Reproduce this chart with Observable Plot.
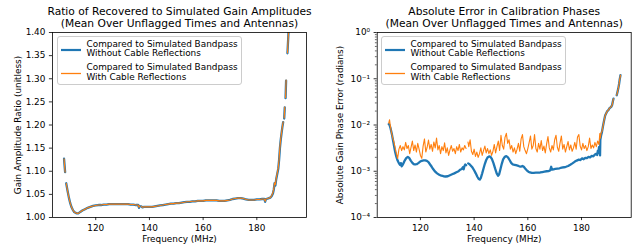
<!DOCTYPE html>
<html><head><meta charset="utf-8">
<script src="https://cdn.jsdelivr.net/npm/d3@7"></script>
<script src="https://cdn.jsdelivr.net/npm/@observablehq/plot@0.6"></script>
<style>
body{margin:0;background:#fff;}
#wrap{position:relative;width:638px;height:248px;font-family:"DejaVu Sans",sans-serif;}
.panel{position:absolute;top:0;}
.legend{position:absolute;box-sizing:border-box;width:185px;height:49px;border:1px solid #cccccc;border-radius:3px;background:rgba(255,255,255,0.8);}
.sw{position:absolute;left:2px;top:0;}
.lt{position:absolute;left:28.5px;font-size:8.9px;line-height:9.4px;white-space:pre;color:#000;}
</style></head><body>
<div id="wrap"></div>
<script>
// ---------- text ----------
const leftTitle = "Ratio of Recovered to Simulated Gain Amplitudes\n(Mean Over Unflagged Times and Antennas)";
const rightTitle = "Absolute Error in Calibration Phases\n(Mean Over Unflagged Times and Antennas)";
const xLabel = "Frequency (MHz)";
const leftYLabel = "Gain Amplitude Ratio (unitless)";
const rightYLabel = "Absolute Gain Phase Error (radians)";
const seriesNames = ["Compared to Simulated Bandpass\nWithout Cable Reflections", "Compared to Simulated Bandpass\nWith Cable Reflections"];
const seriesColors = ["#1f77b4", "#ff7f0e"];

// ---------- ticks ----------
const xTicks = [120, 140, 160, 180];
const ampTicks = [1.00, 1.05, 1.10, 1.15, 1.20, 1.25, 1.30, 1.35, 1.40];
const phaseMajorTicks = [1e-4, 1e-3, 1e-2, 1e-1, 1];
const phaseMinorTicks = [2e-4,3e-4,4e-4,5e-4,6e-4,7e-4,8e-4,9e-4,2e-3,3e-3,4e-3,5e-3,6e-3,7e-3,8e-3,9e-3,2e-2,3e-2,4e-2,5e-2,6e-2,7e-2,8e-2,9e-2,0.2,0.3,0.4,0.5,0.6,0.7,0.8,0.9];

// ---------- gain amplitude ratio, [MHz, ratio] ----------
const ampNoRefl = [[108.2,1.127],[108.4,1.112],[108.6,1.098],[108.8,null],[109.0,1.074],[109.5,1.058],[110.0,1.043],[110.5,1.031],[111.0,1.022],[111.5,1.016],[112.0,1.012],[112.5,1.010],[113.0,1.009],[113.5,1.009],[114.0,1.011],[114.5,1.013],[115.0,1.015],[116.0,1.018],[117.0,1.021],[118.0,1.023],[119.0,1.025],[120.0,1.026],[121.0,1.027],[122.0,1.027],[123.0,1.028],[124.0,1.028],[125.0,1.029],[126.0,1.029],[127.0,1.029],[128.0,1.029],[129.0,1.029],[130.0,1.029],[131.0,1.029],[132.0,1.029],[133.0,1.028],[134.0,1.028],[135.0,1.027],[135.8,1.027],[136.1,1.021],[136.4,1.025],[136.7,null],[137.0,1.024],[137.4,1.022],[138,1.023],[139,1.023],[140,1.023],[141,1.023],[142,1.024],[143,1.025],[144,1.026],[145,1.027],[146,1.028],[147,1.029],[148,1.030],[149,1.030],[150,1.031],[151,1.031],[152,1.032],[153,1.033],[154,1.034],[155,1.034],[156,1.035],[157,1.035],[158,1.036],[159,1.036],[160,1.036],[161,1.037],[162,1.037],[163,1.037],[164,1.037],[165,1.037],[166,1.036],[167,1.036],[168,1.036],[169,1.037],[170,1.038],[171,1.040],[172,1.041],[173,1.042],[174,1.042],[175,1.041],[176,1.039],[177,1.038],[178,1.038],[179,1.038],[180,1.039],[181,1.039],[182,1.040],[182.8,1.040],[183.1,1.034],[183.4,1.040],[184,1.041],[184.5,1.042],[185,1.043],[185.5,1.046],[186.0,1.052],[186.3,1.060],[186.6,1.074],[186.9,1.069],[187.2,1.082],[187.6,1.094],[188.0,1.106],[188.3,1.125],[188.6,1.150],[188.9,1.168],[189.2,1.182],[189.5,1.195],[189.8,1.206],[190.0,null],[190.2,1.214],[190.4,1.238],[190.5,null],[190.7,1.258],[190.9,1.296],[191.1,null],[191.4,1.355],[191.8,1.40],[192.0,1.43]];
const ampWithRefl = [[108.2,1.127],[108.4,1.112],[108.6,1.098],[108.8,null],[109.0,1.074],[109.5,1.058],[110.0,1.043],[110.5,1.031],[111.0,1.022],[111.5,1.016],[112.0,1.012],[112.5,1.010],[113.0,1.009],[113.5,1.009],[114.0,1.011],[114.5,1.013],[115.0,1.015],[116.0,1.018],[117.0,1.021],[118.0,1.023],[119.0,1.025],[120.0,1.026],[121.0,1.027],[122.0,1.027],[123.0,1.028],[124.0,1.028],[125.0,1.029],[126.0,1.029],[127.0,1.029],[128.0,1.029],[129.0,1.029],[130.0,1.029],[131.0,1.029],[132.0,1.029],[133.0,1.028],[134.0,1.028],[135.0,1.027],[135.8,1.027],[136.1,1.022],[136.4,1.025],[136.7,null],[137.0,1.024],[137.4,1.022],[138,1.023],[139,1.023],[140,1.023],[141,1.023],[142,1.024],[143,1.025],[144,1.026],[145,1.027],[146,1.028],[147,1.029],[148,1.030],[149,1.030],[150,1.031],[151,1.031],[152,1.032],[153,1.033],[154,1.034],[155,1.034],[156,1.035],[157,1.035],[158,1.036],[159,1.036],[160,1.036],[161,1.037],[162,1.037],[163,1.037],[164,1.037],[165,1.037],[166,1.036],[167,1.036],[168,1.036],[169,1.037],[170,1.038],[171,1.040],[172,1.041],[173,1.042],[174,1.042],[175,1.041],[176,1.039],[177,1.038],[178,1.038],[179,1.038],[180,1.039],[181,1.039],[182,1.040],[182.8,1.040],[183.1,1.035],[183.4,1.040],[184,1.041],[184.5,1.042],[185,1.043],[185.5,1.047],[186.0,1.054],[186.3,1.062],[186.6,1.075],[186.9,1.071],[187.2,1.084],[187.6,1.096],[188.0,1.108],[188.3,1.127],[188.6,1.152],[188.9,1.170],[189.2,1.183],[189.5,1.196],[189.8,1.207],[190.0,null],[190.2,1.215],[190.4,1.239],[190.5,null],[190.7,1.259],[190.9,1.297],[191.1,null],[191.4,1.356],[191.8,1.40],[192.0,1.43]];

// ---------- absolute phase error, [MHz, radians] ----------
const phaseNoRefl = [[108.2,0.0105],[108.5,0.0100],[108.8,0.0088],[109.1,0.0074],[109.4,0.0062],[109.7,0.0050],[110.0,0.0040],[110.3,0.0032],[110.6,0.0026],[111.0,0.0021],[111.5,0.0017],[112.0,0.00148],[112.4,0.00138],[112.7,0.00150],[113.0,0.00128],[113.3,0.00135],[113.7,0.00150],[114.2,0.00172],[114.7,0.00192],[115.3,0.00205],[115.8,0.00195],[116.4,0.00170],[117.0,0.00152],[117.5,0.00143],[118.0,0.00140],[118.6,0.00142],[119.2,0.00150],[119.8,0.00160],[120.5,0.00168],[121.2,0.00172],[121.8,0.00172],[122.4,0.00168],[123.0,0.00158],[123.6,0.00140],[124.2,0.00125],[124.8,0.00110],[125.5,0.00098],[126.2,0.00090],[127.0,0.00084],[127.8,0.00080],[128.6,0.00078],[129.4,0.00077],[130.2,0.00078],[131.0,0.00082],[131.8,0.00086],[132.6,0.00090],[133.4,0.00095],[134.2,0.00100],[134.8,0.00108],[135.4,0.00112],[135.8,0.00122],[136.1,0.00110],[136.4,0.00130],[136.7,0.00140],[137.0,0.00135],[137.3,null],[137.8,0.00148],[138.3,0.00142],[138.8,0.00132],[139.4,0.00120],[140.0,0.00105],[140.6,0.00090],[141.2,0.00076],[141.7,0.00068],[142.1,0.00066],[142.5,0.00072],[143.0,0.00090],[143.5,0.00115],[144.0,0.00145],[144.5,0.00175],[145.0,0.00198],[145.6,0.00210],[146.1,0.00205],[146.6,0.00185],[147.2,0.00150],[147.8,0.00115],[148.4,0.00090],[148.9,0.00080],[149.3,0.00085],[149.8,0.00110],[150.3,0.00145],[150.8,0.00180],[151.4,0.00205],[152.0,0.00212],[152.6,0.00200],[153.2,0.00175],[153.8,0.00152],[154.4,0.00140],[155.0,0.00138],[155.6,0.00135],[156.2,0.00132],[156.8,0.00128],[157.4,0.00126],[158.0,0.00130],[158.5,0.00125],[159.0,0.00115],[159.6,0.00105],[160.2,0.00098],[160.8,0.00094],[161.5,0.00092],[162.2,0.00092],[163.0,0.00093],[163.8,0.00093],[164.6,0.00094],[165.4,0.00096],[166.2,0.00098],[167.0,0.00100],[167.7,0.00101],[168.3,0.00104],[168.7,0.00125],[169.0,0.00108],[169.6,0.00110],[170.2,0.00112],[171.0,0.00114],[171.8,0.00116],[172.6,0.00120],[173.4,0.00122],[174.2,0.00125],[175.0,0.00130],[175.8,0.00138],[176.6,0.00148],[177.4,0.00160],[178.2,0.00170],[179.0,0.00178],[179.6,0.00175],[180.2,0.00190],[180.8,0.00182],[181.4,0.00195],[182.0,0.00192],[182.6,0.00205],[183.2,0.00200],[183.8,0.00215],[184.4,0.00210],[185.0,0.00230],[185.5,0.00240],[185.8,0.00225],[186.1,0.00280],[186.3,0.00250],[186.5,0.00330],[186.7,0.00270],[186.9,0.00220],[187.0,0.00480],[187.3,0.0060],[187.6,0.0070],[188.0,0.0095],[188.4,0.0125],[188.8,0.016],[189.2,0.018],[189.6,0.020],[190.0,0.021],[190.4,0.023],[190.8,0.024],[191.1,0.025],[191.4,0.027],[191.7,0.033],[191.9,0.037],[192.2,null],[193.1,0.044],[193.4,0.052],[193.7,0.062],[194.0,0.078],[194.2,0.095],[194.4,0.110],[194.5,0.120]];
const phaseWithRefl = [[108.2,0.0110],[108.5,0.0130],[108.8,0.0095],[109.1,0.0075],[109.4,0.0062],[109.7,0.0052],[110.0,0.0046],[110.5,0.0034],[111.0,0.0025],[111.5,0.0019],[112.0,0.0030],[112.5,0.0036],[113.0,0.0028],[113.5,0.0034],[114.0,0.0029],[114.5,0.0042],[115.0,0.0031],[115.5,0.0036],[116.0,0.0024],[116.5,0.0033],[117.0,0.0045],[117.5,0.0028],[118.0,0.0037],[118.5,0.0026],[119.0,0.0040],[119.5,0.0030],[120.0,0.0022],[120.5,0.0019],[121.0,0.0035],[121.5,0.0050],[122.0,0.0026],[122.5,0.0033],[123.0,0.0047],[123.5,0.0030],[124.0,0.0038],[124.5,0.0027],[125.0,0.0043],[125.5,0.0032],[126.0,0.0052],[126.5,0.0029],[127.0,0.0036],[127.5,0.0024],[128.0,0.0034],[128.5,0.0028],[129.0,0.0041],[129.5,0.0025],[130.0,0.0032],[130.5,0.0022],[131.0,0.0029],[131.5,0.0036],[132.0,0.0027],[132.5,0.0031],[133.0,0.0024],[133.5,0.0034],[134.0,0.0028],[134.5,0.0038],[135.0,0.0026],[135.5,0.0032],[136.0,0.0029],[136.5,0.0036],[137.0,0.0031],[137.3,null],[137.7,0.0043],[138.0,0.0034],[138.5,0.0048],[139.0,0.0027],[139.5,0.0023],[140.0,0.0030],[140.5,0.0021],[141.0,0.0026],[141.5,0.0020],[142.0,0.0024],[142.5,0.0032],[143.0,0.0022],[143.5,0.0028],[144.0,0.0035],[144.5,0.0025],[145.0,0.0031],[145.5,0.0024],[146.0,0.0029],[146.5,0.0022],[147.0,0.0027],[147.5,0.0038],[148.0,0.0025],[148.5,0.0034],[149.0,0.0045],[149.5,0.0028],[150.0,0.0060],[150.5,0.0036],[151.0,0.0030],[151.5,0.0054],[152.0,0.0066],[152.5,0.0040],[153.0,0.0048],[153.5,0.0030],[154.0,0.0036],[154.5,0.0026],[155.0,0.0032],[155.5,0.0024],[156.0,0.0030],[156.5,0.0040],[157.0,0.0027],[157.5,0.0050],[158.0,0.0062],[158.5,0.0034],[159.0,0.0028],[159.5,0.0024],[160.0,0.0031],[160.5,0.0042],[161.0,0.0058],[161.5,0.0030],[162.0,0.0036],[162.5,0.0062],[163.0,0.0031],[163.5,0.0026],[164.0,0.0040],[164.5,0.0030],[165.0,0.0046],[165.5,0.0028],[166.0,0.0035],[166.5,0.0025],[167.0,0.0039],[167.5,0.0056],[168.0,0.0032],[168.5,0.0026],[169.0,0.0036],[169.5,0.0029],[170.0,0.0048],[170.5,0.0060],[171.0,0.0033],[171.5,0.0027],[172.0,0.0041],[172.5,0.0058],[173.0,0.0030],[173.5,0.0038],[174.0,0.0026],[174.5,0.0034],[175.0,0.0044],[175.5,0.0029],[176.0,0.0037],[176.5,0.0027],[177.0,0.0032],[177.5,0.0042],[178.0,0.0030],[178.5,0.0055],[179.0,0.0062],[179.5,0.0035],[180.0,0.0029],[180.5,0.0040],[181.0,0.0031],[181.5,0.0036],[182.0,0.0028],[182.5,0.0034],[183.0,0.0052],[183.5,0.0031],[184.0,0.0037],[184.5,0.0032],[185.0,0.0042],[185.5,0.0034],[186.0,0.0045],[186.5,0.0038],[186.8,0.0065],[187.0,0.0052],[187.3,0.0068],[187.6,0.0072],[188.0,0.0095],[188.4,0.0125],[188.8,0.016],[189.2,0.018],[189.6,0.020],[190.0,0.021],[190.4,0.023],[190.8,0.024],[191.1,0.025],[191.4,0.027],[191.7,0.033],[191.9,0.037],[192.2,null],[193.1,0.044],[193.4,0.052],[193.7,0.062],[194.0,0.078],[194.2,0.095],[194.4,0.110],[194.5,0.120]];

// ---------- layout ----------
const W = 319, H = 248, FS = 8.9, TFS = 10.7;
const xDomain = [103.9, 198.5];
const sup = {"-":"⁻","0":"⁰","1":"¹","2":"²","3":"³","4":"⁴"};
const fmtPow = d => "10" + String(Math.round(Math.log10(d))).split("").map(c => sup[c]).join("");

function commonMarks(title, yLabel, yLabelDx) {
  return [
    Plot.axisX(xTicks, {tickSize: 3.1, tickPadding: 4, fontSize: FS, strokeWidth: 0.8, label: null}),
    Plot.frame({stroke: "#000", strokeWidth: 0.8}),
    Plot.text([title], {text: d => d, frameAnchor: "top", lineAnchor: "top", dy: -25.3, fontSize: TFS, lineHeight: 1.09, fill: "#000"}),
    Plot.text([xLabel], {text: d => d, frameAnchor: "bottom", lineAnchor: "top", dy: 18.4, fontSize: FS, fill: "#000"}),
    Plot.text([yLabel], {text: d => d, frameAnchor: "left", rotate: -90, textAnchor: "middle", lineAnchor: "middle", dx: yLabelDx, fontSize: FS, fill: "#000"})
  ];
}

const left = Plot.plot({
  width: W, height: H, marginLeft: 52, marginRight: 13, marginTop: 32, marginBottom: 31,
  style: {fontFamily: "DejaVu Sans", fontSize: FS + "px", color: "#000", background: "transparent"},
  x: {domain: xDomain},
  y: {domain: [1.0, 1.4]},
  marks: [
    Plot.line(ampNoRefl, {x: d => d[0], y: d => d[1], stroke: seriesColors[0], strokeWidth: 2.3, clip: true}),
    Plot.line(ampWithRefl, {x: d => d[0], y: d => d[1], stroke: seriesColors[1], strokeWidth: 1.1, clip: true}),
    Plot.axisY(ampTicks, {tickSize: 3.1, tickPadding: 4, fontSize: FS, strokeWidth: 0.8, tickFormat: d3.format(".2f"), label: null}),
    ...commonMarks(leftTitle, leftYLabel, -34.5)
  ]
});

const right = Plot.plot({
  width: W, height: H, marginLeft: 57.7, marginRight: 7.3, marginTop: 32, marginBottom: 31,
  style: {fontFamily: "DejaVu Sans", fontSize: FS + "px", color: "#000", background: "transparent"},
  x: {domain: xDomain},
  y: {type: "log", domain: [1e-4, 1]},
  marks: [
    Plot.line(phaseNoRefl, {x: d => d[0], y: d => d[1], stroke: seriesColors[0], strokeWidth: 2.3, clip: true}),
    Plot.line(phaseWithRefl, {x: d => d[0], y: d => d[1], stroke: seriesColors[1], strokeWidth: 1.1, clip: true}),
    Plot.axisY(phaseMinorTicks, {tickSize: 1.8, strokeWidth: 0.6, tickFormat: () => "", label: null}),
    Plot.axisY(phaseMajorTicks, {tickSize: 3.1, tickPadding: 4, fontSize: FS, strokeWidth: 0.8, tickFormat: fmtPow, label: null}),
    ...commonMarks(rightTitle, rightYLabel, -37.2)
  ]
});

const wrap = document.getElementById("wrap");
function addPanel(svg, x) {
  const d = document.createElement("div");
  d.className = "panel"; d.style.left = x + "px";
  d.appendChild(svg); wrap.appendChild(d);
}
addPanel(left, 0);
addPanel(right, W);

const NS = "http://www.w3.org/2000/svg";
function addLegend(x, y) {
  const box = document.createElement("div");
  box.className = "legend"; box.style.left = x + "px"; box.style.top = y + "px";
  const svg = document.createElementNS(NS, "svg");
  svg.setAttribute("class", "sw"); svg.setAttribute("width", "24"); svg.setAttribute("height", "46");
  const swY = [13, 36.5], swW = [2.2, 1.3], txtTop = [2.8, 26.1];
  seriesNames.forEach((name, i) => {
    const ln = document.createElementNS(NS, "line");
    ln.setAttribute("x1", "1"); ln.setAttribute("x2", "21");
    ln.setAttribute("y1", swY[i]); ln.setAttribute("y2", swY[i]);
    ln.setAttribute("stroke", seriesColors[i]); ln.setAttribute("stroke-width", swW[i]);
    svg.appendChild(ln);
    const t = document.createElement("div");
    t.className = "lt"; t.style.top = txtTop[i] + "px"; t.textContent = name;
    box.appendChild(t);
  });
  box.appendChild(svg);
  wrap.appendChild(box);
}
addLegend(57, 36);
addLegend(381, 36);
</script>
</body></html>
